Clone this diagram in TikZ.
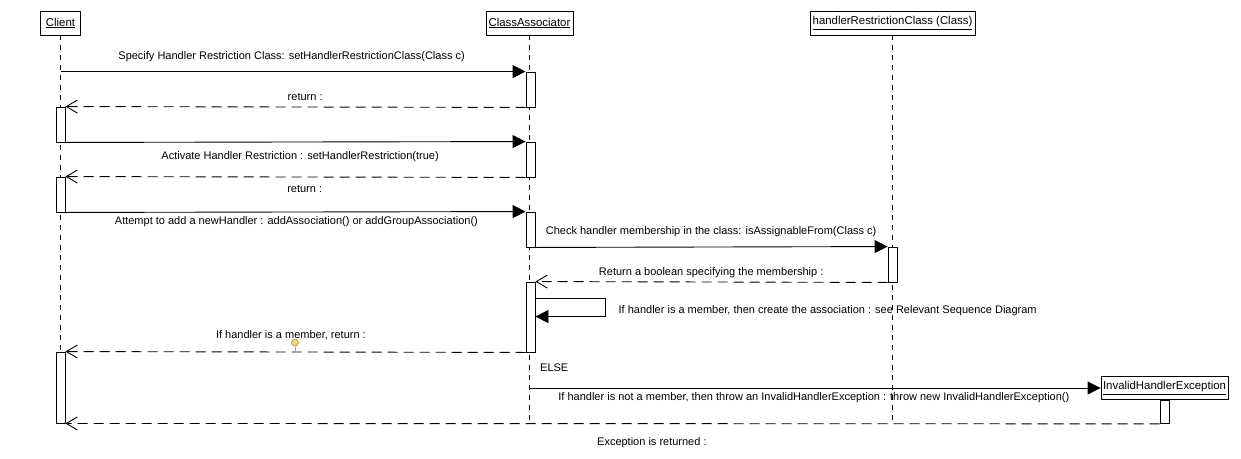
\documentclass[tikz,border=0pt]{standalone}
\usepackage{fontspec}
\setmainfont{Liberation Sans}
\usetikzlibrary{arrows.meta}

\newcommand{\objname}[1]{\raisebox{1.5pt}{\underline{#1}}}

\tikzset{
  head/.style={draw, fill=white, line width=0.9pt, inner sep=0pt, minimum height=24pt,
               font=\fontsize{11.4}{13}\selectfont},
  act/.style={draw, fill=white, line width=0.9pt, minimum width=9pt, inner sep=0pt},
  lifeline/.style={line width=0.9pt, dash pattern=on 5pt off 5pt},
  call/.style={line width=0.9pt, -{Triangle[length=13pt,width=13pt]}},
  ret/.style={line width=0.9pt, dash pattern=on 10pt off 6pt,
              -{Straight Barb[length=11pt,width=13pt,line width=0.9pt]}},
  lbl/.style={inner sep=0pt, font=\fontsize{11}{13}\selectfont},
}

\begin{document}
\begin{tikzpicture}[x=1pt, y=-1pt]
\useasboundingbox (0,0) rectangle (1241,458);
\fill[white] (0,0) rectangle (1241,458);

% object heads
\node[head, minimum width=40pt]  (client) at (60.5,23) {\objname{Client}};
\node[head, minimum width=87pt]  (ca)     at (529.5,23) {\objname{ClassAssociator}};
\node[head, minimum width=165pt] (hrc)    at (892.5,23) {\objname{handlerRestrictionClass (Class)}};
\coordinate (bottom) at (0,425);

% lifelines
\draw[lifeline] (client.south) -- (client.south |- bottom);
\draw[lifeline] (ca.south) -- (ca.south |- bottom);
\draw[lifeline] (hrc.south) -- (hrc.south |- bottom);

% activation bars
\node[act, minimum height=35pt] (ca1) at (530.5,89.5) {};
\node[act, minimum height=35pt] (cl1) at (60.5,124.5) {};
\node[act, minimum height=35pt] (ca2) at (530.5,159.5) {};
\node[act, minimum height=35pt] (cl2) at (60.5,194.5) {};
\node[act, minimum height=35pt] (ca3) at (530.5,229.5) {};
\node[act, minimum height=35pt] (hr1) at (892.5,264.5) {};
\node[act, minimum height=70pt] (ca4) at (530.5,317) {};
\node[act, minimum height=71pt] (cl3) at (60.5,387.5) {};

% exception object created by the ELSE branch
\node[head, minimum width=127pt, minimum height=23pt] (ie) at (1164.5,388) {\objname{InvalidHandlerException}};
\node[act, minimum height=23pt, anchor=north] (ie1) at (ie.south) {};

% messages
\draw[call] (client.south |- ca1.north) -- (ca1.north west)
  node[lbl, pos=0.497, yshift=15pt] {Specify Handler Restriction Class: setHandlerRestrictionClass(Class c)};
\draw[ret] (ca1.south west) -- (cl1.north east)
  node[lbl, pos=0.479, yshift=10pt] {return :};
\draw[call] (cl1.south east) -- (ca2.north west)
  node[lbl, pos=0.51, yshift=-15pt] {Activate Handler Restriction : setHandlerRestriction(true)};
\draw[ret] (ca2.south west) -- (cl2.north east)
  node[lbl, pos=0.48, yshift=-12pt] {return :};
\draw[call] (cl2.south east) -- (ca3.north west)
  node[lbl, pos=0.502, yshift=-10pt] {Attempt to add a newHandler : addAssociation() or addGroupAssociation()};
\draw[call] (ca3.south east) -- (hr1.north west)
  node[lbl, pos=0.499, yshift=15pt] {Check handler membership in the class: isAssignableFrom(Class c)};
\draw[ret] (hr1.south west) -- (ca4.north east)
  node[lbl, pos=0.501, yshift=9pt] {Return a boolean specifying the membership :};

% self call
\draw[call] ([yshift=-17pt]ca4.north east) -- ++(70,0) coordinate (selfc) -- ++(0,18)
  -- ([yshift=-35pt]ca4.north east);
\node[lbl, anchor=west] (selflbl) at ([xshift=13pt, yshift=-12pt]selfc) {If handler is a member, then create the association : see Relevant Sequence Diagram};

\draw[ret] (ca4.south west) -- (cl3.north east)
  node[lbl, pos=0.51, yshift=17pt] {If handler is a member, return :};

% marker on the return message
\draw[draw={rgb,255:red,232;green,120;blue,120}, line width=0.8pt] (295,347) -- (295,352);
\node[circle, inner sep=0pt, minimum size=7pt, fill={rgb,255:red,246;green,214;blue,110},
      draw={rgb,255:red,176;green,140;blue,60}, line width=0.6pt] (dot) at (295,342.5) {};

% ELSE branch
\node[lbl, anchor=west] (else) at (540,368) {ELSE};
\draw[call] (ca.south |- ie.west) -- (ie.west)
  node[lbl, pos=0.498, yshift=-10pt] {If handler is not a member, then throw an InvalidHandlerException : throw new InvalidHandlerException()};
\draw[ret] (ie1.south west) -- (cl3.south east)
  node[lbl, pos=0.464, yshift=-19pt] {Exception is returned :};
\end{tikzpicture}
\end{document}
